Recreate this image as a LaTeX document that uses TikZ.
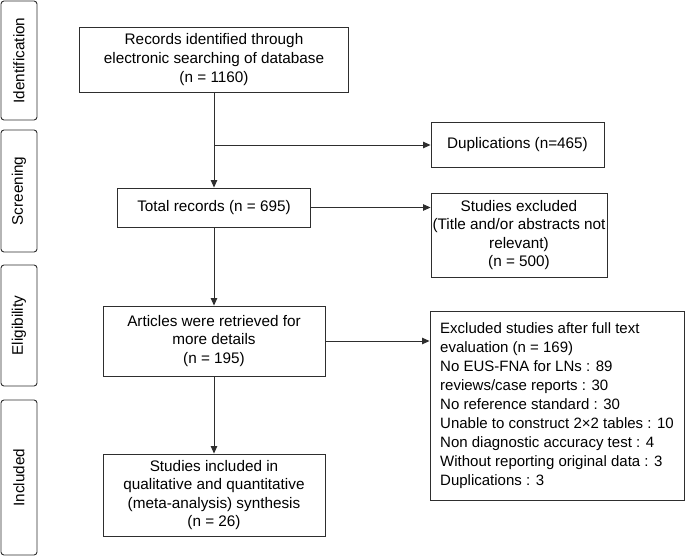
\documentclass[tikz,border=0pt]{standalone}
\usepackage{fontspec}
\setmainfont{Liberation Sans}
\usetikzlibrary{arrows.meta, positioning}
\definecolor{boxline}{HTML}{2E2E2E}

\begin{document}
\begin{tikzpicture}[x=1pt, y=-1pt,
			> = {Triangle[length=7.5pt, width=6.5pt]},
			font = \fontsize{15.3}{18.6}\selectfont,
			every node/.style = {inner sep=0pt, align=center},
			flowbox/.style = {draw=boxline, line width=0.9pt},
			stagebox/.style = {draw=boxline, line width=0.9pt, rounded corners=3pt,
				rotate=90, minimum height=36pt},
			link/.style = {draw=boxline, line width=0.9pt}]
			\useasboundingbox (0,0) rectangle (685,556);
			%
			\node[stagebox, minimum width=119pt] (ident) at (19,60.5) {Identification};
			\node[stagebox, minimum width=122pt] (screen) at (19,191) {Screening};
			\node[stagebox, minimum width=121pt] (elig) at (19,325.5) {Eligibility};
			\node[stagebox, minimum width=155pt] (incl) at (19,477.5) {Included};
			%
			\node[flowbox, minimum width=269pt, minimum height=65pt] (records) at (214,59.5)
			{Records identified through\\ electronic searching of database\\ (n = 1160)};
			\node[flowbox, minimum width=193pt, minimum height=39pt] (total) at (214,207.5)
			{Total records (n = 695)};
			\node[flowbox, minimum width=222pt, minimum height=70pt] (articles) at (214,341)
			{Articles were retrieved for\\ more details\\ (n = 195)};
			\node[flowbox, minimum width=222pt, minimum height=82pt] (included) at (214,495)
			{Studies included in\\ qualitative and quantitative\\ (meta-analysis) synthesis\\ (n = 26)};
			%
			\node[flowbox, minimum width=173pt, minimum height=45pt] (dup) at (517.5,145)
			{Duplications (n=465)};
			\node[flowbox, minimum width=176pt, minimum height=84pt] (excl) at (519,235)
			{Studies excluded\\ (Title and/or abstracts not\\ relevant)\\ (n = 500)};
			\node[flowbox, minimum width=254pt, minimum height=189pt, align=left,
				font=\fontsize{15}{19}\selectfont] (fulltext) at (557,405.5)
			{Excluded studies after full text\\ evaluation (n = 169)\\ No EUS-FNA for LNs : 89\\
				reviews/case reports : 30\\ No reference standard : 30\\
				Unable to construct 2×2 tables : 10\\ Non diagnostic accuracy test : 4\\
				Without reporting original data : 3\\ Duplications : 3};
			%
			\coordinate (split) at (records.south |- dup.west);
			\draw[link, ->] (records) -- (total);
			\draw[link, ->] (split) -- (dup.west);
			\draw[link, ->] (total) -- (articles);
			\draw[link, ->] (articles) -- (included);
			\draw[link, ->] (total.east) -- (total.east -| excl.west);
			\draw[link, ->] (articles.east) -- (articles.east -| fulltext.west);
		\end{tikzpicture}
\end{document}
